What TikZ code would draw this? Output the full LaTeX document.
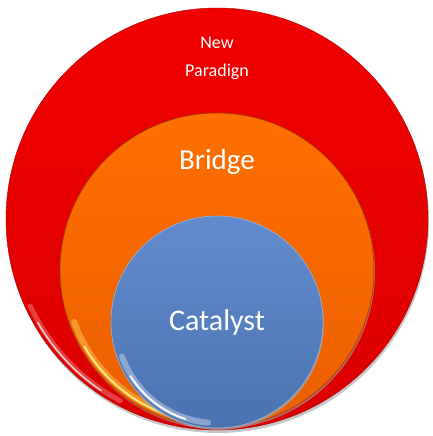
\documentclass[tikz,border=0pt]{standalone}
\usepackage{fontspec}
\setmainfont{Carlito}
\usetikzlibrary{calc}
\definecolor{paradigmred}{RGB}{242,0,0}
\definecolor{bridgeorange}{RGB}{255,104,0}
\definecolor{catalystblue}{RGB}{84,130,200}
\tikzset{
	ringlabel/.style={text=white, inner sep=0pt, align=center},
	gloss/.style={line cap=round}
}

\begin{document}
\begin{tikzpicture}[x=1pt, y=-1pt]
		%%%%% START %%%%%
		\useasboundingbox (0, 0) rectangle (432, 436);
		
		% outer circle
		\fill[black!22] (218, 222) circle (211);
		\shade[top color=paradigmred, bottom color=paradigmred!90!black] (217, 219) circle (211);
		\draw[line width=0.4pt, color=paradigmred!70!black] (217, 219) circle (211);
		\draw[gloss, line width=5pt, opacity=0.25, color=white] ($(217, 219)+(155:206)$) arc (155:118:206);
		\draw[gloss, line width=1.6pt, opacity=0.7, color=white] ($(217, 219)+(150:207)$) arc (150:124:207);
		
		% middle circle
		\fill[black!35, opacity=0.6] (218, 272) circle (157);
		\shade[top color=bridgeorange!95!yellow, bottom color=bridgeorange!92!black] (217, 270) circle (157);
		\draw[line width=0.6pt, color=bridgeorange!60!black] (217, 270) circle (157);
		\draw[gloss, line width=6pt, opacity=0.35, color=yellow!50!white] ($(217, 270)+(160:152)$) arc (160:100:152);
		\draw[gloss, line width=1.8pt, opacity=0.8, color=yellow!40!white] ($(217, 270)+(150:153)$) arc (150:110:153);
		
		% inner circle
		\fill[black!35, opacity=0.6] (218, 324) circle (106);
		\shade[top color=catalystblue!92!white, bottom color=catalystblue!88!black] (217, 322) circle (106);
		\draw[line width=0.6pt, color=catalystblue!60!white] (217, 322) circle (106);
		\draw[gloss, line width=6pt, opacity=0.35, color=white] ($(217, 322)+(160:101)$) arc (160:95:101);
		\draw[gloss, line width=2pt, opacity=0.9, color=white] ($(217, 322)+(148:102)$) arc (148:108:102);
		
		% labels
		\node[ringlabel, font=\fontsize{18}{28}\selectfont] (newparadigm) at (217, 58) {New\\Paradign};
		\node[ringlabel, font=\fontsize{29}{34}\selectfont] (bridge) at (217, 162) {Bridge};
		\node[ringlabel, font=\fontsize{30}{36}\selectfont] (catalyst) at (217, 322) {Catalyst};
		%%%%% END %%%%%
	\end{tikzpicture}
\end{document}
